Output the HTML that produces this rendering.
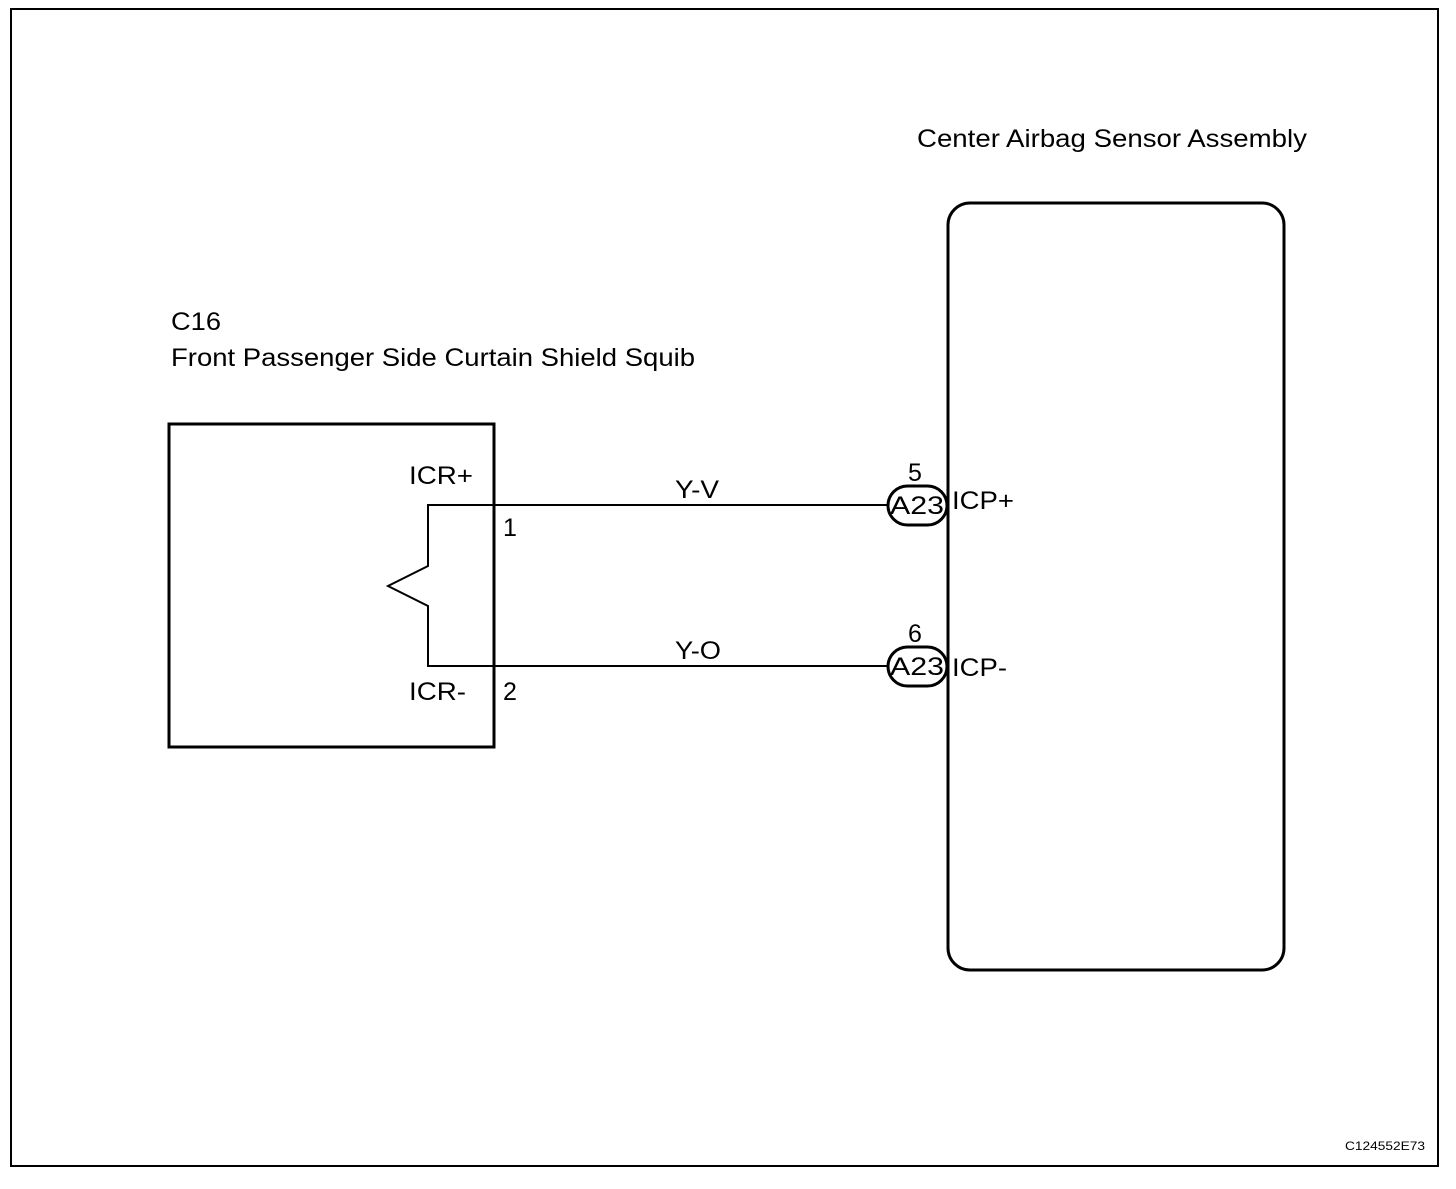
<!DOCTYPE html>
<html><head><style>body{margin:0;background:#fff}</style></head><body>
<svg width="1456" height="1184" xmlns="http://www.w3.org/2000/svg" font-family="Liberation Sans, Arial, sans-serif">
<rect x="11" y="9" width="1427" height="1157" fill="none" stroke="#000" stroke-width="2"/>
<rect x="948" y="203" width="336" height="767" rx="22" fill="none" stroke="#000" stroke-width="3"/>
<rect x="169" y="424" width="325" height="323" fill="none" stroke="#000" stroke-width="3"/>
<polyline points="888,505 428,505 428,566 388,586 428,606 428,666 888,666" fill="none" stroke="#000" stroke-width="2"/>
<rect x="888" y="486" width="59" height="39" rx="19.5" fill="#fff" stroke="#000" stroke-width="3"/>
<rect x="888" y="647" width="59" height="39" rx="19.5" fill="#fff" stroke="#000" stroke-width="3"/>
<g font-size="25" fill="#000" lengthAdjust="spacingAndGlyphs">
<text x="917" y="147" textLength="390" lengthAdjust="spacingAndGlyphs">Center Airbag Sensor Assembly</text>
<text x="171" y="330" textLength="50" lengthAdjust="spacingAndGlyphs">C16</text>
<text x="171" y="366" textLength="524" lengthAdjust="spacingAndGlyphs">Front Passenger Side Curtain Shield Squib</text>
<text x="409" y="484" textLength="64" lengthAdjust="spacingAndGlyphs">ICR+</text>
<text x="409" y="700" textLength="57" lengthAdjust="spacingAndGlyphs">ICR-</text>
<text x="503" y="536">1</text>
<text x="503" y="700">2</text>
<text x="675" y="498" textLength="44" lengthAdjust="spacingAndGlyphs">Y-V</text>
<text x="675" y="659" textLength="46" lengthAdjust="spacingAndGlyphs">Y-O</text>
<text x="908" y="481">5</text>
<text x="908" y="642">6</text>
<text x="890" y="514" textLength="54" lengthAdjust="spacingAndGlyphs">A23</text>
<text x="890" y="675" textLength="54" lengthAdjust="spacingAndGlyphs">A23</text>
<text x="952" y="509" textLength="62" lengthAdjust="spacingAndGlyphs">ICP+</text>
<text x="952" y="676" textLength="55" lengthAdjust="spacingAndGlyphs">ICP-</text>
</g>
<text x="1345" y="1150" font-size="12" textLength="80" lengthAdjust="spacingAndGlyphs">C124552E73</text>
</svg>
</body></html>
